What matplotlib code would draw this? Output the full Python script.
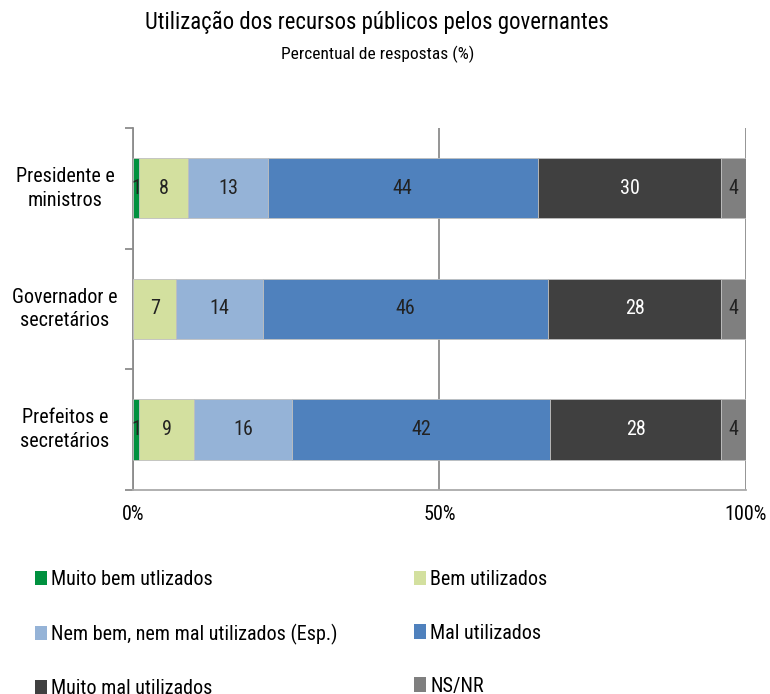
import numpy as np
import matplotlib.pyplot as plt
from matplotlib import font_manager
from matplotlib.patches import Patch

# pick a condensed face if one is installed
installed = {f.name for f in font_manager.fontManager.ttflist}
candidates = ['Roboto Condensed', 'Liberation Sans Narrow', 'Roboto', 'Liberation Sans']
face = next((c for c in candidates if c in installed), 'DejaVu Sans')
plt.rcParams['font.family'] = [face, 'DejaVu Sans']
fs = 14.5

groups = ['Presidente e\nministros', 'Governador e\nsecretários', 'Prefeitos e\nsecretários']
series = ['Muito bem utlizados', 'Bem utilizados', 'Nem bem, nem mal utilizados (Esp.)',
          'Mal utilizados', 'Muito mal utilizados', 'NS/NR']
values = {
    'Muito bem utlizados': [1, 0, 1],
    'Bem utilizados': [8, 7, 9],
    'Nem bem, nem mal utilizados (Esp.)': [13, 14, 16],
    'Mal utilizados': [44, 46, 42],
    'Muito mal utilizados': [30, 28, 28],
    'NS/NR': [4, 4, 4],
}
colors = ['#00913F', '#D3E09F', '#95B3D7', '#4F81BD', '#404040', '#7F7F7F']
label_colors = ['#222222', '#222222', '#222222', '#222222', 'white', '#222222']

fig = plt.figure(figsize=(7.7, 6.94), dpi=100)
ax = fig.add_axes([0.1727, 0.294, 0.7961, 0.5216])

data = np.array([values[s] for s in series], dtype=float)
totals = data.sum(axis=0)
shares = data / totals * 100
y = np.arange(len(groups))
left = np.zeros(len(groups))
for i, s in enumerate(series):
    ax.barh(y, shares[i], left=left, height=0.5, color=colors[i],
            edgecolor='#BFBFBF', linewidth=0.6, label=s, zorder=3)
    for j in range(len(groups)):
        if data[i, j] > 0:
            ax.text(left[j] + shares[i, j] / 2, y[j], f'{int(data[i, j])}',
                    ha='center', va='center', fontsize=fs, color=label_colors[i], zorder=4)
    left += shares[i]

ax.set_xlim(0, 100)
ax.set_ylim(len(groups) - 0.5, -0.5)
ax.set_xticks([0, 50, 100])
ax.set_xticklabels(['0%', '50%', '100%'], fontsize=fs)
ax.tick_params(axis='x', length=0, pad=11)
ax.xaxis.grid(True, color='#8C8C8C', linewidth=1.3, zorder=0)

# category labels centred between tick marks
ax.set_yticks(np.arange(len(groups) + 1) - 0.5)
ax.set_yticklabels([])
ax.set_yticks(y, minor=True)
ax.set_yticklabels(groups, minor=True, fontsize=fs, ha='center', va='center', linespacing=1.3)
ax.tick_params(axis='y', which='major', length=6, color='#8C8C8C', width=1.3)
ax.tick_params(axis='y', which='minor', length=0, pad=49)

for side in ['top', 'right']:
    ax.spines[side].set_visible(False)
ax.spines['left'].set_color('#8C8C8C')
ax.spines['left'].set_linewidth(1.3)
ax.spines['bottom'].set_color('#AAAAAA')
ax.spines['bottom'].set_linewidth(1.3)

fig.text(0.49, 0.968, 'Utilização dos recursos públicos pelos governantes',
         ha='center', va='center', fontsize=16.4)
fig.text(0.49, 0.921, 'Percentual de respostas (%)', ha='center', va='center', fontsize=12.5)

# legend: two columns placed side by side
legend_kw = dict(loc='upper left', frameon=False, fontsize=fs, handlelength=0.6,
                 handleheight=0.7, handletextpad=0.2, labelspacing=1.69,
                 borderpad=0, borderaxespad=0)
col1 = [Patch(facecolor=colors[k], label=series[k]) for k in (0, 2, 4)]
col2 = [Patch(facecolor=colors[k], label=series[k]) for k in (1, 3, 5)]
fig.legend(handles=col1, bbox_to_anchor=(0.0455, 0.178), **legend_kw)
fig.legend(handles=col2, bbox_to_anchor=(0.5377, 0.178), **legend_kw)

fig.savefig('out.png', dpi=100)
